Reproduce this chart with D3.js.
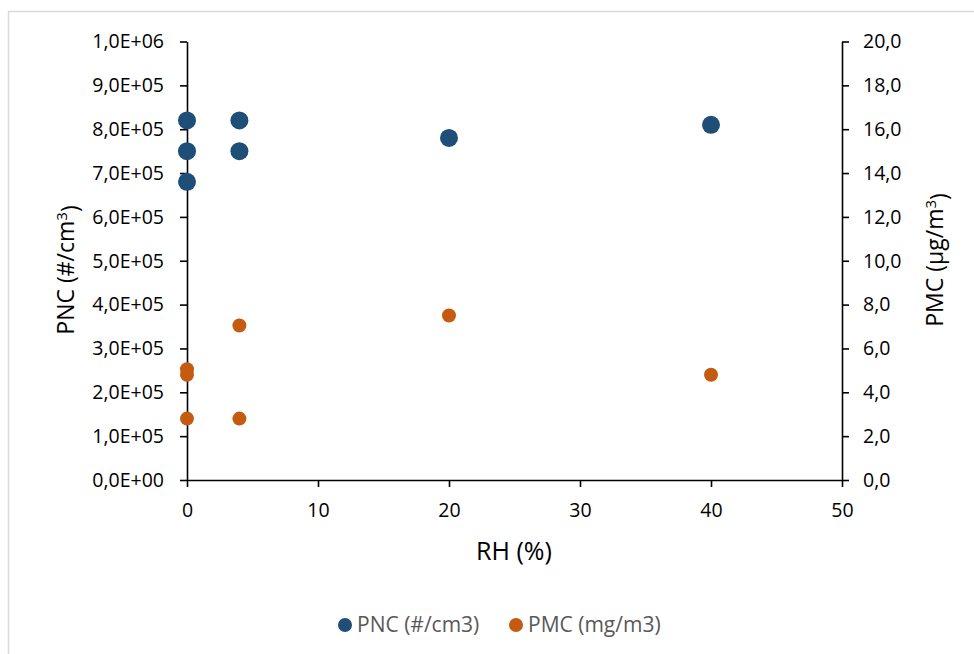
<!DOCTYPE html>
<html>
  <head>
    <meta charset="utf-8">
    <script src="https://d3js.org/d3.v7.min.js"></script>
    <style>
      body { margin: 0; background: #fff; }
      svg { font-family: "Open Sans", sans-serif; }
    </style>
  </head>
  <body>
    <svg id="chart" width="974" height="654"></svg>
    <script>
    // data
    var pncRH = [0, 0, 0, 4, 4, 20, 40];
    var pncVal = [820000, 750000, 680000, 820000, 750000, 780000, 810000];
    var pmcRH = [0, 0, 0, 4, 4, 20, 40];
    var pmcVal = [5.05, 4.8, 2.8, 7.05, 2.8, 7.5, 4.8];
    var xTicks = [0, 10, 20, 30, 40, 50];
    var leftTicks = d3.range(0, 1000001, 100000);
    var rightTicks = d3.range(0, 20.01, 2);

    var svg = d3.select("#chart");
    var plotL = 187, plotR = 842, plotT = 41.5, plotB = 480;

    // chart frame
    svg.append("rect")
      .attr("x", 8.5).attr("y", 11.5)
      .attr("width", 1000).attr("height", 700)
      .attr("fill", "#fff")
      .attr("stroke", "#d9d9d9")
      .attr("stroke-width", 1.5);

    var x = d3.scaleLinear().domain([0, 50]).range([plotL, plotR]);
    var yL = d3.scaleLinear().domain([0, 1000000]).range([plotB, plotT]);
    var yR = d3.scaleLinear().domain([0, 20]).range([plotB, plotT]);

    function sci(v) {
      if (v === 0) return "0,0E+00";
      var e = Math.floor(Math.log10(v) + 1e-9);
      var m = v / Math.pow(10, e);
      return m.toFixed(1).replace(".", ",") + "E+" + (e < 10 ? "0" : "") + e;
    }

    function styleAxis(g) {
      g.attr("font-family", null).attr("font-size", null);
      g.selectAll("path").attr("stroke", "#000").attr("stroke-width", 1.6);
      g.selectAll("line").attr("stroke", "#000").attr("stroke-width", 1.6);
      g.selectAll("text").attr("fill", "#000").style("font-size", "19.5px");
    }

    svg.append("g")
      .attr("transform", "translate(0," + plotB + ")")
      .call(d3.axisBottom(x).tickValues(xTicks).tickSize(7).tickSizeOuter(0).tickPadding(16))
      .call(styleAxis);

    svg.append("g")
      .attr("transform", "translate(" + plotL + ",0)")
      .call(d3.axisLeft(yL).tickValues(leftTicks).tickFormat(sci).tickSize(7).tickSizeOuter(0).tickPadding(16))
      .call(styleAxis);

    svg.append("g")
      .attr("transform", "translate(" + plotR + ",0)")
      .call(d3.axisRight(yR).tickValues(rightTicks).tickFormat(function(d) { return d.toFixed(1).replace(".", ","); }).tickSize(7).tickSizeOuter(0).tickPadding(14))
      .call(styleAxis);

    svg.selectAll("path.domain").attr("fill", "none");

    // points
    svg.append("g").selectAll("circle")
      .data(pncVal)
      .enter().append("circle")
      .attr("cx", function(d, i) { return x(pncRH[i]); })
      .attr("cy", function(d) { return yL(d); })
      .attr("r", 9)
      .attr("fill", "#1f4e79");

    svg.append("g").selectAll("circle")
      .data(pmcVal)
      .enter().append("circle")
      .attr("cx", function(d, i) { return x(pmcRH[i]); })
      .attr("cy", function(d) { return yR(d); })
      .attr("r", 7)
      .attr("fill", "#c55a11");

    // axis titles
    svg.append("text")
      .attr("x", 514).attr("y", 560)
      .attr("text-anchor", "middle")
      .style("font-size", "25px")
      .text("RH (%)");

    var lt = svg.append("text")
      .attr("transform", "translate(74,270) rotate(-90)")
      .attr("text-anchor", "middle")
      .style("font-size", "23px");
    lt.append("tspan").text("PNC (#/cm");
    lt.append("tspan").attr("dy", "-0.5em").style("font-size", "15px").text("3");
    lt.append("tspan").attr("dy", "0.5em").text(")");

    var rt = svg.append("text")
      .attr("transform", "translate(943,260) rotate(-90)")
      .attr("text-anchor", "middle")
      .style("font-size", "23px");
    rt.append("tspan").text("PMC (µg/m");
    rt.append("tspan").attr("dy", "-0.5em").style("font-size", "15px").text("3");
    rt.append("tspan").attr("dy", "0.5em").text(")");

    // legend
    var legend = [
      { name: "PNC (#/cm3)", color: "#1f4e79", x: 345 },
      { name: "PMC (mg/m3)", color: "#c55a11", x: 516 }
    ];
    var lg = svg.append("g").selectAll("g")
      .data(legend)
      .enter().append("g")
      .attr("transform", function(d) { return "translate(" + d.x + ",625)"; });
    lg.append("circle").attr("r", 7).attr("fill", function(d) { return d.color; });
    lg.append("text")
      .attr("x", 12).attr("dy", "0.35em")
      .attr("fill", "#595959")
      .style("font-size", "21px")
      .text(function(d) { return d.name; });
    </script>
  </body>
</html>
